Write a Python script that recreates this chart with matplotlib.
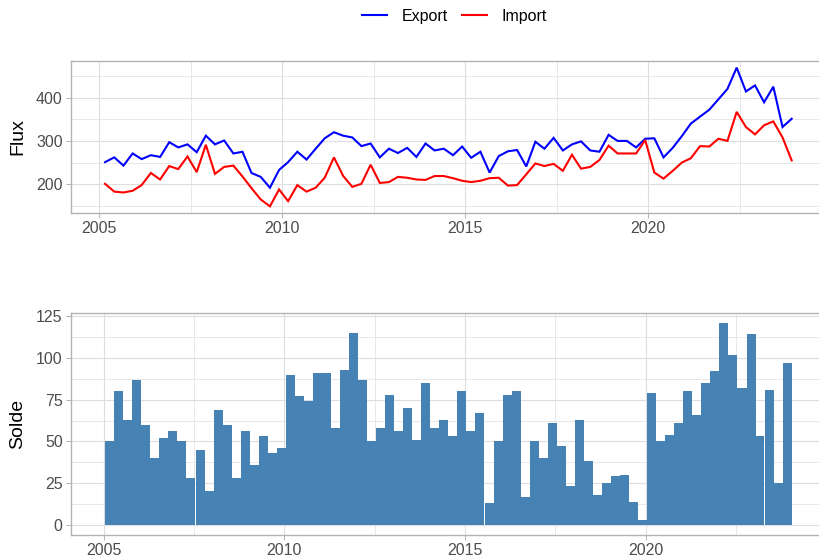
import numpy as np
import pandas as pd
import matplotlib
matplotlib.use("Agg")
import matplotlib.pyplot as plt
from matplotlib.ticker import MultipleLocator
from matplotlib.lines import Line2D

plt.rcParams["font.family"] = ["Liberation Sans", "DejaVu Sans"]

# Quarterly observations (one per quarter, dated on the 1st of the last month)
quarters = pd.date_range("2005-03-01", periods=76, freq="3MS")

export = [251, 262, 243, 271, 258, 267, 263, 297, 285, 292,
          274, 312, 292, 301, 271, 275, 226, 217, 192, 233,
          251, 275, 257, 282, 306, 320, 312, 308, 288, 294,
          262, 282, 272, 284, 263, 294, 278, 282, 267, 287,
          261, 275, 227, 265, 276, 279, 241, 298, 282, 307,
          278, 292, 299, 278, 275, 314, 300, 300, 285, 305,
          306, 262, 284, 311, 340, 356, 372, 396, 420, 469,
          414, 428, 389, 425, 332, 351]

imports = [201, 183, 181, 185, 198, 226, 211, 242, 235, 264,
           228, 291, 224, 240, 243, 218, 191, 165, 149, 188,
           161, 198, 183, 192, 215, 262, 219, 194, 201, 245,
           203, 205, 217, 215, 211, 210, 219, 219, 214, 208,
           205, 208, 214, 215, 197, 198, 223, 248, 242, 247,
           231, 268, 236, 240, 256, 289, 271, 271, 271, 302,
           227, 213, 231, 250, 260, 288, 287, 305, 300, 367,
           332, 315, 336, 345, 308, 255]

solde = [50, 80, 63, 87, 60, 40, 52, 56, 50, 28,
         45, 20, 69, 60, 28, 56, 36, 53, 43, 46,
         90, 77, 74, 91, 91, 58, 93, 115, 87, 50,
         58, 78, 56, 70, 51, 85, 58, 63, 53, 80,
         56, 67, 13, 50, 78, 80, 17, 50, 40, 61,
         47, 23, 63, 38, 18, 25, 29, 30, 14, 3,
         79, 50, 54, 61, 80, 66, 85, 92, 121, 102,
         82, 114, 53, 81, 25, 97]


def decimal_year(d):
    start = pd.Timestamp(year=d.year, month=1, day=1)
    end = pd.Timestamp(year=d.year + 1, month=1, day=1)
    return d.year + (d - start) / (end - start)


def expand(lo, hi, mult=0.05):
    r = hi - lo
    return lo - r * mult, hi + r * mult


x = np.array([decimal_year(d) for d in quarters])
bar_w = 91.3 / 365.25

GRID = "#DEDEDE"
BORDER = "#B3B3B3"
TICKTXT = "#4D4D4D"
FS_TICK = 11.5
FS_TITLE = 14

W, H = 820, 560
fig = plt.figure(figsize=(W / 100, H / 100), dpi=100)


def panel_rect(left, top, right, bottom):
    return [left / W, 1 - bottom / H, (right - left) / W, (bottom - top) / H]


ax1 = fig.add_axes(panel_rect(70.7, 60.7, 826, 213.3))
ax2 = fig.add_axes(panel_rect(70.7, 312.7, 826, 535))


def style(ax, ymaj, ymin):
    ax.set_axisbelow(True)
    ax.xaxis.set_major_locator(MultipleLocator(5))
    ax.xaxis.set_minor_locator(MultipleLocator(2.5))
    ax.yaxis.set_major_locator(MultipleLocator(ymaj))
    ax.yaxis.set_minor_locator(MultipleLocator(ymin))
    ax.grid(which="major", color=GRID, lw=0.85)
    ax.grid(which="minor", color=GRID, lw=0.5)
    ax.tick_params(which="major", length=3.6, width=0.7, color=BORDER,
                   labelcolor=TICKTXT, labelsize=FS_TICK, pad=2.2)
    ax.tick_params(which="minor", length=0)
    for s in ax.spines.values():
        s.set_color(BORDER)
        s.set_linewidth(1.0)


# Flux panel
ax1.plot(x, export, color="blue", lw=1.5, solid_joinstyle="miter")
ax1.plot(x, imports, color="red", lw=1.5, solid_joinstyle="miter")
ax1.set_xlim(*expand(x.min(), x.max()))
ax1.set_ylim(*expand(min(min(export), min(imports)), max(max(export), max(imports))))
style(ax1, 100, 50)

# Solde panel
ax2.bar(x, solde, width=bar_w, color="#4682B4", linewidth=0)
ax2.set_xlim(*expand(x.min() - bar_w / 2, x.max() + bar_w / 2))
ax2.set_ylim(*expand(0, max(solde)))
style(ax2, 25, 12.5)

fig.text(18 / W, 1 - 137 / H, "Flux", rotation=90, ha="center", va="center",
         fontsize=FS_TITLE, color="black")
fig.text(18 / W, 1 - 424 / H, "Solde", rotation=90, ha="center", va="center",
         fontsize=FS_TITLE, color="black")

handles = [Line2D([], [], color="blue", lw=1.5, label="Export"),
           Line2D([], [], color="red", lw=1.5, label="Import")]
fig.legend(handles=handles, loc="center", bbox_to_anchor=(454.5 / W, 1 - 16 / H),
           ncol=2, frameon=False, fontsize=FS_TICK, handlelength=1.55,
           handletextpad=0.9, columnspacing=0.9)

fig.savefig("out.png", dpi=100)
